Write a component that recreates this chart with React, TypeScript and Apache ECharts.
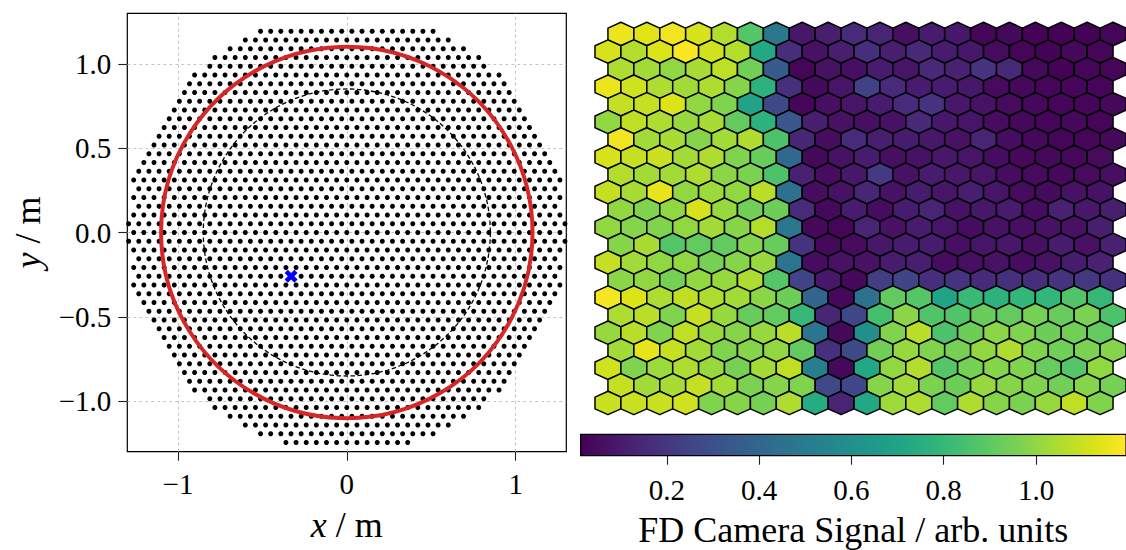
import React, { useEffect, useRef } from 'react';
import * as echarts from 'echarts';

const FONT = "'Liberation Serif', 'Times New Roman', serif";

// ---------------- Left panel: station layout ----------------
const stationPitchX = 0.0601; // m, spacing along a row
const stationPitchY = 0.0519; // m, spacing between rows
const topRowIndex = 23; // rows run from +23 (top) down to -24 (bottom)
// extent of each row, in half-pitch units, top row first
const rowHalfLeft = [
  17, 20, 23, 26, 27, 30, 31, 32, 33, 34, 35, 36, 37, 38, 39, 40, 41, 42, 41, 42, 41, 42, 43, 42,
  43, 42, 41, 42, 41, 42, 41, 40, 39, 38, 37, 36, 35, 34, 33, 32, 31, 30, 27, 26, 23, 20, 17, 12,
];
const rowHalfRight = [
  17, 20, 23, 26, 27, 30, 31, 32, 33, 34, 35, 36, 37, 38, 39, 40, 41, 42, 41, 42, 41, 42, 43, 42,
  43, 42, 41, 42, 41, 42, 41, 40, 39, 38, 37, 36, 35, 34, 33, 32, 31, 30, 27, 26, 23, 20, 17, 12,
];
const ringRadii = [1.1, 0.85];
const corePosition = [-0.33, -0.26];
const xTicks = [-1, 0, 1];
const yTicks = [-1, -0.5, 0, 0.5, 1];

// ---------------- Right panel: camera signal (22 rows x 20 columns, top row first) ----------------
const signal: number[][] = [
  [1.16, 1.14, 1.17, 1.12, 1.06, 0.88, 0.48, 0.09, 0.11, 0.16, 0.13, 0.06, 0.10, 0.09, 0.03, 0.04, 0.02, 0.02, 0.02, 0.03],
  [1.12, 1.06, 1.13, 1.19, 1.11, 1.06, 0.72, 0.17, 0.07, 0.11, 0.17, 0.11, 0.15, 0.10, 0.09, 0.045, 0.03, 0.02, 0.035, 0.03],
  [1.05, 1.03, 1.00, 1.04, 1.08, 0.94, 0.35, 0.03, 0.07, 0.06, 0.10, 0.08, 0.15, 0.12, 0.19, 0.15, 0.04, 0.02, 0.03, 0.03],
  [1.16, 1.11, 1.05, 1.03, 1.05, 0.98, 0.77, 0.18, 0.04, 0.08, 0.24, 0.16, 0.10, 0.10, 0.09, 0.045, 0.035, 0.03, 0.03, 0.03],
  [1.09, 1.09, 1.13, 1.00, 0.97, 0.70, 0.27, 0.03, 0.06, 0.08, 0.10, 0.16, 0.19, 0.09, 0.07, 0.045, 0.035, 0.03, 0.03, 0.035],
  [1.00, 1.08, 1.05, 1.01, 1.04, 0.91, 0.77, 0.33, 0.11, 0.07, 0.06, 0.07, 0.15, 0.09, 0.08, 0.05, 0.035, 0.03, 0.035, 0.03],
  [1.17, 1.03, 1.04, 0.98, 1.03, 1.05, 0.86, 0.14, 0.05, 0.16, 0.11, 0.10, 0.09, 0.07, 0.13, 0.05, 0.035, 0.03, 0.03, 0.035],
  [1.12, 1.09, 1.10, 1.03, 1.05, 0.97, 0.92, 0.41, 0.04, 0.07, 0.10, 0.06, 0.07, 0.09, 0.08, 0.05, 0.035, 0.035, 0.035, 0.045],
  [1.06, 1.03, 1.03, 1.05, 0.99, 0.96, 0.86, 0.12, 0.05, 0.09, 0.21, 0.07, 0.10, 0.09, 0.08, 0.05, 0.045, 0.035, 0.045, 0.06],
  [1.09, 1.04, 1.15, 1.00, 1.02, 1.00, 1.07, 0.45, 0.05, 0.07, 0.14, 0.07, 0.10, 0.08, 0.11, 0.08, 0.045, 0.045, 0.07, 0.07],
  [1.00, 0.97, 1.00, 1.12, 1.01, 0.94, 0.93, 0.16, 0.04, 0.10, 0.05, 0.10, 0.13, 0.07, 0.09, 0.10, 0.05, 0.12, 0.09, 0.11],
  [1.00, 0.98, 0.97, 1.00, 1.03, 0.98, 1.06, 0.48, 0.04, 0.03, 0.13, 0.07, 0.10, 0.08, 0.05, 0.07, 0.06, 0.07, 0.07, 0.11],
  [0.98, 1.04, 0.88, 0.91, 0.91, 0.97, 0.92, 0.19, 0.04, 0.045, 0.09, 0.10, 0.10, 0.06, 0.08, 0.09, 0.06, 0.10, 0.07, 0.12],
  [1.09, 1.03, 1.00, 1.00, 0.95, 0.98, 1.01, 0.47, 0.05, 0.07, 0.07, 0.10, 0.11, 0.05, 0.06, 0.07, 0.05, 0.07, 0.10, 0.12],
  [0.99, 1.00, 0.95, 1.00, 1.01, 1.05, 0.88, 0.25, 0.09, 0.04, 0.23, 0.25, 0.17, 0.19, 0.16, 0.18, 0.17, 0.19, 0.20, 0.18],
  [1.18, 1.13, 1.05, 1.08, 1.05, 1.03, 0.99, 0.93, 0.39, 0.04, 0.45, 0.91, 0.88, 0.70, 0.81, 0.77, 0.79, 0.79, 0.87, 0.80],
  [1.05, 1.07, 0.97, 1.09, 1.01, 0.92, 0.91, 0.80, 0.14, 0.26, 0.84, 0.99, 0.87, 0.87, 0.92, 0.91, 0.95, 0.92, 0.96, 0.86],
  [1.01, 1.07, 0.97, 1.08, 1.01, 0.98, 1.01, 1.07, 0.47, 0.04, 0.60, 0.97, 1.07, 0.86, 0.93, 0.99, 0.97, 0.93, 0.94, 0.91],
  [1.03, 1.15, 1.09, 1.03, 0.97, 0.98, 1.00, 0.91, 0.18, 0.27, 0.94, 1.01, 0.97, 0.95, 1.00, 1.05, 0.97, 0.94, 0.96, 0.98],
  [1.11, 0.97, 1.02, 1.05, 1.01, 0.95, 1.03, 1.08, 0.52, 0.04, 0.72, 1.00, 1.06, 0.88, 0.95, 0.98, 0.97, 0.92, 0.88, 1.00],
  [1.09, 1.03, 1.04, 1.09, 1.03, 0.96, 0.98, 0.97, 0.27, 0.26, 0.98, 1.03, 0.96, 0.93, 1.01, 0.98, 0.97, 0.94, 0.98, 0.95],
  [1.10, 1.10, 1.10, 1.11, 0.97, 0.98, 0.95, 1.05, 0.74, 0.13, 0.72, 1.02, 1.05, 0.91, 1.05, 0.98, 0.96, 1.01, 1.08, 0.97],
];
const signalRange = [0.013, 1.195];
const cbarTicks = [0.2, 0.4, 0.6, 0.8, 1.0];

// ---------------- colour map ----------------
const VIRIDIS = [
  '#440154', '#471365', '#482475', '#46337f', '#414487', '#3b528b', '#355f8d', '#2f6c8e', '#2a788e',
  '#25848e', '#21918c', '#1e9c89', '#22a884', '#30b47c', '#44bf70', '#5ec962', '#7ad151', '#9bd93c',
  '#bddf26', '#dfe318', '#fde725',
];
function hexRgb(h: string) {
  return [parseInt(h.slice(1, 3), 16), parseInt(h.slice(3, 5), 16), parseInt(h.slice(5, 7), 16)];
}
const VIRIDIS_RGB = VIRIDIS.map(hexRgb);
function viridis(v: number) {
  let t = (v - signalRange[0]) / (signalRange[1] - signalRange[0]);
  t = Math.max(0, Math.min(1, t));
  const p = t * (VIRIDIS_RGB.length - 1);
  const i = Math.min(Math.floor(p), VIRIDIS_RGB.length - 2);
  const f = p - i;
  const a = VIRIDIS_RGB[i];
  const b = VIRIDIS_RGB[i + 1];
  const c = a.map((x, k) => Math.round(x + (b[k] - x) * f));
  return `rgb(${c[0]},${c[1]},${c[2]})`;
}

const minus = (s: string) => s.replace('-', '\u2212');

function buildOption() {
  const stations: number[][] = [];
  rowHalfLeft.forEach((L, i) => {
    const k = topRowIndex - i;
    for (let h = -L; h <= rowHalfRight[i]; h += 2) {
      stations.push([(h * stationPitchX) / 2, k * stationPitchY]);
    }
  });

  const cells: number[][] = [];
  signal.forEach((row, r) => row.forEach((v, c) => cells.push([c, r, v])));

  const tickText = { fontSize: 29, fontFamily: FONT, color: '#000' };
  const nameStyle = {
    fontSize: 36,
    fontFamily: FONT,
    color: '#000',
    rich: { i: { fontStyle: 'italic', fontSize: 36, fontFamily: FONT, color: '#000' } },
  };

  return {
    animation: false,
    backgroundColor: '#fff',
    grid: [
      { left: 127.3, top: 13.3, width: 439, height: 438.4, show: true, borderColor: '#000', borderWidth: 1.2, backgroundColor: 'transparent' },
      { left: 595, top: 16.43, width: 534.7, height: 404.1 },
      { left: 580.6, top: 434.3, width: 549.4, height: 21.4 },
    ],
    xAxis: [
      {
        gridIndex: 0, type: 'value', min: -1.3, max: 1.3,
        axisLine: { show: false, onZero: false },
        axisTick: { show: true, customValues: xTicks, length: 9, lineStyle: { color: '#222', width: 1.1 } },
        axisLabel: { customValues: xTicks, formatter: (v: number) => minus(String(v)), margin: 18, ...tickText },
        splitLine: { show: false },
        name: '{i|x} / m', nameLocation: 'middle', nameGap: 55, nameTextStyle: nameStyle,
      },
      { gridIndex: 1, type: 'value', min: -0.5, max: 20, show: false },
      {
        gridIndex: 2, type: 'value', min: signalRange[0], max: signalRange[1], position: 'bottom',
        axisLine: { show: false, onZero: false },
        axisTick: { show: true, customValues: cbarTicks, length: 9, lineStyle: { color: '#222', width: 1.1 } },
        axisLabel: { customValues: cbarTicks, formatter: (v: number) => v.toFixed(1), margin: 20, ...tickText },
        splitLine: { show: false },
        name: 'FD Camera Signal / arb. units', nameLocation: 'middle', nameGap: 56,
        nameTextStyle: { fontSize: 36, fontFamily: FONT, color: '#000' },
      },
    ],
    yAxis: [
      {
        gridIndex: 0, type: 'value', min: -1.3, max: 1.3,
        axisLine: { show: false, onZero: false },
        axisTick: { show: true, customValues: yTicks, length: 9, lineStyle: { color: '#222', width: 1.1 } },
        axisLabel: { customValues: yTicks, formatter: (v: number) => minus(v.toFixed(1)), margin: 16, ...tickText },
        splitLine: { show: false },
        name: '{i|y} / m', nameLocation: 'middle', nameGap: 81, nameTextStyle: nameStyle,
      },
      { gridIndex: 1, type: 'value', min: -1, max: 22, inverse: true, show: false },
      { gridIndex: 2, type: 'value', min: 0, max: 1, show: false },
    ],
    series: [
      {
        type: 'scatter', xAxisIndex: 0, yAxisIndex: 0, data: [], silent: true, z: 1,
        markLine: {
          silent: true, z: 1, symbol: ['none', 'none'], label: { show: false },
          lineStyle: { color: '#b8b8b8', type: [3, 3], width: 0.8 },
          emphasis: { disabled: true },
          data: [...xTicks.map((v) => ({ xAxis: v })), ...yTicks.map((v) => ({ yAxis: v }))],
        },
      },
      {
        type: 'scatter', xAxisIndex: 0, yAxisIndex: 0, data: stations, symbol: 'circle', symbolSize: 5,
        itemStyle: { color: '#000', opacity: 1 }, silent: true, z: 2,
      },
      {
        type: 'custom', xAxisIndex: 0, yAxisIndex: 0, z: 3, silent: true,
        data: ringRadii.map((r) => [0, 0, r]),
        dimensions: ['x', 'y', 'r'],
        encode: { x: 0, y: 1 },
        renderItem: (params: any, api: any) => {
          const c = api.coord([api.value(0), api.value(1)]);
          const e = api.coord([api.value(0) + api.value(2), api.value(1)]);
          const r = Math.abs(e[0] - c[0]);
          const red = params.dataIndex === 0;
          return {
            type: 'circle',
            shape: { cx: c[0], cy: c[1], r },
            style: red
              ? { fill: 'none', stroke: '#d62728', lineWidth: 4 }
              : { fill: 'none', stroke: '#000', lineWidth: 1.3, lineDash: [4.5, 2.5] },
          };
        },
      },
      {
        type: 'scatter', xAxisIndex: 0, yAxisIndex: 0, data: [corePosition], z: 4, silent: true,
        symbol: 'path://M0,2.5 L2.5,0 L5,2.5 L7.5,0 L10,2.5 L7.5,5 L10,7.5 L7.5,10 L5,7.5 L2.5,10 L0,7.5 L2.5,5 Z',
        symbolSize: 13, itemStyle: { color: '#0000ff', opacity: 1 },
      },
      {
        type: 'custom', xAxisIndex: 1, yAxisIndex: 1, silent: true,
        data: cells,
        dimensions: ['col', 'row', 'signal'],
        encode: { x: 0, y: 1 },
        renderItem: (params: any, api: any) => {
          const col = api.value(0);
          const row = api.value(1);
          const v = api.value(2);
          const cx = col + (row % 2 === 0 ? 0.5 : 0);
          const offs = [[0, -2 / 3], [0.5, -1 / 3], [0.5, 1 / 3], [0, 2 / 3], [-0.5, 1 / 3], [-0.5, -1 / 3]];
          const points = offs.map(([dx, dy]) => api.coord([cx + dx, row + dy]));
          return {
            type: 'polygon',
            shape: { points },
            style: { fill: viridis(v), stroke: '#000', lineWidth: 1.5, lineJoin: 'round' },
          };
        },
      },
      {
        type: 'custom', xAxisIndex: 2, yAxisIndex: 2, silent: true,
        data: [[signalRange[0], 0]],
        renderItem: (params: any) => {
          const cs = params.coordSys;
          return {
            type: 'rect',
            shape: { x: cs.x, y: cs.y, width: cs.width, height: cs.height },
            style: {
              fill: new echarts.graphic.LinearGradient(0, 0, 1, 0,
                VIRIDIS.map((color, i) => ({ offset: i / (VIRIDIS.length - 1), color }))),
              stroke: '#000', lineWidth: 1.2,
            },
          };
        },
      },
    ],
  };
}

export default function App() {
  const ref = useRef<HTMLDivElement>(null);
  useEffect(() => {
    if (!ref.current) return;
    const chart = echarts.init(ref.current, undefined, { renderer: 'svg' });
    chart.setOption(buildOption() as any);
    return () => chart.dispose();
  }, []);
  return (
    <div
      ref={ref}
      style={{ position: 'absolute', left: 0, top: 0, width: 1126, height: 550, background: '#fff' }}
    />
  );
}
